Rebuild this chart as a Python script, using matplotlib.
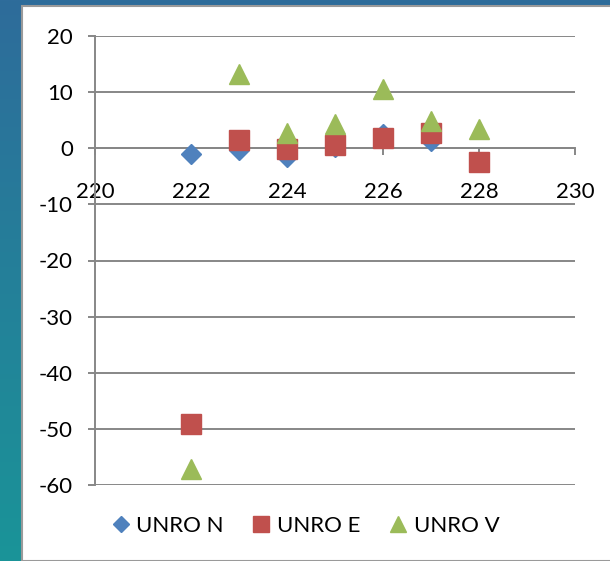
import numpy as np
import matplotlib.pyplot as plt
from matplotlib.patches import Rectangle

plt.rcParams['font.family'] = ['Lato', 'DejaVu Sans']
plt.rcParams['axes.unicode_minus'] = False

# dane pomiarowe
dni = [222, 223, 224, 225, 226, 227, 228]
unro_n = [-1.0, -0.4, -1.5, 0.3, 2.6, 1.25, -2.5]
unro_e = [-49.2, 1.5, -0.2, 0.5, 1.85, 2.8, -2.4]
unro_v = [-57.1, 13.3, 2.7, 4.3, 10.5, 4.8, 3.4]

x_ticks = [220, 222, 224, 226, 228, 230]
y_ticks = [20, 10, 0, -10, -20, -30, -40, -50, -60]

W, H = 610, 561
fig = plt.figure(figsize=(W / 100, H / 100), dpi=100)

# tlo slajdu - gradient niebieski/turkusowy
bg = fig.add_axes([0, 0, 1, 1], zorder=-10)
grad = np.linspace(0, 1, 256).reshape(-1, 1)
top = np.array([46, 108, 155]) / 255
bot = np.array([26, 148, 152]) / 255
img = top + (bot - top) * grad[:, :, None]
bg.imshow(img, aspect='auto', extent=[0, 1, 0, 1])
bg.set_axis_off()

# biale pole wykresu
fig.patches.append(Rectangle((22 / W, 0), 1 - 22 / W + 0.01, 1 - 6 / H,
                             transform=fig.transFigure, facecolor='white',
                             edgecolor='#9a9a9a', linewidth=1.5, zorder=-5))

ax = fig.add_axes([95 / W, 1 - 485 / H, 480 / W, 449 / H])
ax.patch.set_alpha(0)

ax.plot(dni, unro_n, linestyle='none', marker='D', markersize=10,
        color='#4F81BD', label='UNRO N', zorder=3)
ax.plot(dni, unro_e, linestyle='none', marker='s', markersize=14,
        color='#C0504D', label='UNRO E', zorder=4)
ax.plot(dni, unro_v, linestyle='none', marker='^', markersize=14,
        color='#9BBB59', label='UNRO V', zorder=5)

ax.set_xlim(220, 230)
ax.set_ylim(-60, 20)
ax.set_xticks(x_ticks)
ax.set_yticks(y_ticks)

szary = '#878787'
ax.grid(axis='y', color=szary, linewidth=1.4)
ax.set_axisbelow(True)
for s in ['top', 'right']:
    ax.spines[s].set_visible(False)
ax.spines['bottom'].set_position(('data', 0))
ax.spines['bottom'].set_color(szary)
ax.spines['bottom'].set_linewidth(1.4)
ax.spines['left'].set_color(szary)
ax.spines['left'].set_linewidth(1.4)

ax.tick_params(axis='x', direction='out', length=5, width=1.4, color=szary,
               labelsize=16, pad=19)
ax.tick_params(axis='y', direction='out', length=5, width=1.4, color=szary,
               labelsize=16, pad=11)

fig.legend(loc='center', bbox_to_anchor=(0.499, 1 - 526 / H), ncol=3,
           frameon=False, fontsize=16, handletextpad=0.2, columnspacing=1.2,
           handlelength=1.0, markerscale=0.85)

fig.savefig('out.png', dpi=100)
